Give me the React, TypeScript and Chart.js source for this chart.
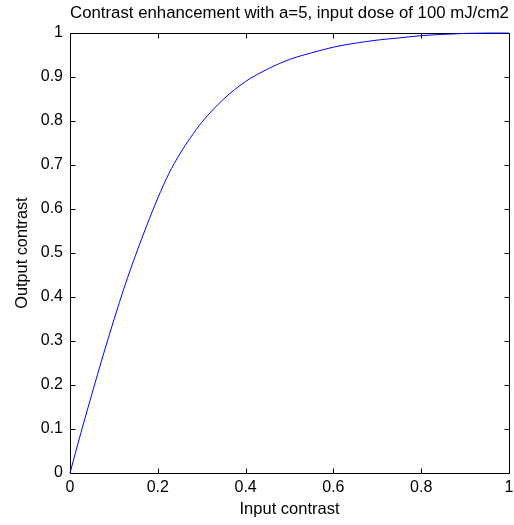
import { useEffect, useRef } from "react";
import { Chart, registerables } from "chart.js";

Chart.register(...registerables);

const TITLE = "Contrast enhancement with a=5, input dose of 100 mJ/cm2";
const X_LABEL = "Input contrast";
const Y_LABEL = "Output contrast";

const inputContrast = [
  0, 0.025, 0.05, 0.075, 0.1, 0.125, 0.15, 0.175, 0.2, 0.225, 0.25, 0.275, 0.3,
  0.35, 0.4, 0.45, 0.5, 0.55, 0.6, 0.65, 0.7, 0.75, 0.8, 0.85, 0.9, 0.95, 1,
];
const outputContrast = [
  0, 0.092, 0.18, 0.266, 0.348, 0.426, 0.497, 0.563, 0.625, 0.68, 0.725, 0.763, 0.797,
  0.85, 0.89, 0.918, 0.94, 0.955, 0.968, 0.977, 0.984, 0.989, 0.994, 0.997, 0.9992, 1, 1,
];

const X_MIN = 0;
const X_MAX = 1;
const X_STEP = 0.2;
const Y_MIN = 0;
const Y_MAX = 1;
const Y_STEP = 0.1;

const FONT = "'Liberation Sans', Arial, Helvetica, sans-serif";
const TICK_LEN = 5;

const fmt = (v: any) => String(Number(Number(v).toFixed(2)));

const framePlugin = {
  id: "matlabFrame",
  beforeDatasetsDraw(chart: any) {
    const { ctx, chartArea: a, scales } = chart;
    const L = Math.round(a.left) + 0.5;
    const R = Math.round(a.right) + 0.5;
    const T = Math.round(a.top) + 0.5;
    const B = Math.round(a.bottom) + 0.5;
    ctx.save();
    ctx.strokeStyle = "#000";
    ctx.lineWidth = 1;
    ctx.beginPath();
    ctx.rect(L, T, R - L, B - T);
    for (const t of scales.x.ticks) {
      const px = Math.round(scales.x.getPixelForValue(t.value)) + 0.5;
      ctx.moveTo(px, B);
      ctx.lineTo(px, B - TICK_LEN);
      ctx.moveTo(px, T);
      ctx.lineTo(px, T + TICK_LEN);
    }
    for (const t of scales.y.ticks) {
      const py = Math.round(scales.y.getPixelForValue(t.value)) + 0.5;
      ctx.moveTo(L, py);
      ctx.lineTo(L + TICK_LEN, py);
      ctx.moveTo(R, py);
      ctx.lineTo(R - TICK_LEN, py);
    }
    ctx.stroke();
    ctx.restore();
  },
};

export default function App() {
  const canvasRef = useRef<HTMLCanvasElement | null>(null);

  useEffect(() => {
    const canvas = canvasRef.current;
    if (!canvas) return;
    const chart = new Chart(canvas, {
      type: "line",
      data: {
        datasets: [
          {
            data: inputContrast.map((x, i) => ({ x, y: outputContrast[i] })),
            borderColor: "#0000ff",
            borderWidth: 1,
            pointRadius: 0,
            fill: false,
            cubicInterpolationMode: "monotone",
            clip: false as any,
          },
        ],
      },
      options: {
        responsive: false,
        animation: false,
        devicePixelRatio: 1,
        layout: { padding: { left: 0, right: 0, top: 0, bottom: 0 } },
        plugins: {
          legend: { display: false },
          tooltip: { enabled: false },
          title: {
            display: true,
            text: TITLE,
            color: "#000",
            fullSize: false,
            font: { family: FONT, size: 16.8, weight: "normal" },
            padding: { top: 2.9, bottom: 10 },
          },
        },
        scales: {
          x: {
            type: "linear",
            min: X_MIN,
            max: X_MAX,
            ticks: {
              stepSize: X_STEP,
              color: "#000",
              font: { family: FONT, size: 16 },
              padding: 5,
              maxRotation: 0,
              callback: fmt,
            },
            grid: { display: false, drawTicks: false },
            border: { display: false },
            title: {
              display: true,
              text: X_LABEL,
              color: "#000",
              font: { family: FONT, size: 16.5 },
              padding: { top: 0, bottom: 5.5 },
            },
            afterFit(s: any) {
              s.height = 52;
              s.paddingRight = 5;
              s.paddingLeft = 0;
            },
          },
          y: {
            type: "linear",
            min: Y_MIN,
            max: Y_MAX,
            ticks: {
              stepSize: Y_STEP,
              color: "#000",
              font: { family: FONT, size: 16 },
              padding: 7,
              callback: fmt,
            },
            grid: { display: false, drawTicks: false },
            border: { display: false },
            title: {
              display: true,
              text: Y_LABEL,
              color: "#000",
              font: { family: FONT, size: 16.3 },
              padding: { top: 12.7, bottom: 0 },
            },
            afterFit(s: any) {
              s.width = 70;
            },
          },
        },
      },
      plugins: [framePlugin],
    });
    return () => chart.destroy();
  }, []);

  return (
    <div style={{ position: "absolute", left: 0, top: 0, width: 514, height: 525, background: "#fff" }}>
      <canvas ref={canvasRef} width={514} height={525} style={{ display: "block" }} />
    </div>
  );
}
